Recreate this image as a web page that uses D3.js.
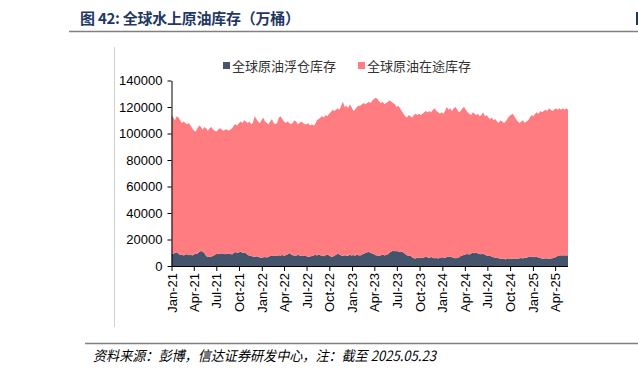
<!DOCTYPE html>
<html>
<head>
<meta charset="utf-8">
<script src="https://cdn.jsdelivr.net/npm/d3@7"></script>
<style>
  body { margin: 0; background: #fff; }
  svg { display: block; }
  .axis text { font-family: "Liberation Sans", Arial, sans-serif; font-size: 13px; fill: #000; }
  .axis path, .axis line { stroke: #000; }
</style>
</head>
<body>
<script>
// weekly series, Fridays from 2021-01-01 to 2025-05-23, in thousands of 万桶
var startDate = "2021-01-01";
var seriesNames = ["全球原油浮仓库存", "全球原油在途库存"];
var floating = [
  9.6,9.2,9.8,10.3,9.5,8.3,8.8,8.0,8.5,9.0,8.2,8.6,8.0,8.8,9.0,9.5,10.5,11.4,11.0,9.8,
  7.5,7.0,6.8,7.2,7.6,8.5,9.0,9.3,9.0,9.6,9.2,8.8,9.4,9.0,9.3,8.6,10.0,10.5,9.8,10.3,
  10.8,10.0,10.2,9.6,8.5,7.8,7.5,7.2,7.0,7.3,7.0,6.5,6.3,6.6,6.8,6.4,7.0,7.6,7.8,7.5,
  8.0,7.8,8.2,8.0,8.3,7.8,8.2,8.6,9.8,8.8,8.2,8.0,7.8,8.4,8.0,7.6,7.8,8.2,7.4,7.0,
  7.2,7.6,8.0,8.4,8.0,8.6,8.2,7.8,7.4,8.2,8.8,8.0,7.2,7.0,7.8,8.4,9.2,8.6,8.0,7.6,
  8.2,8.0,7.8,8.4,8.0,8.3,7.8,8.6,8.2,8.0,8.6,9.2,9.8,10.3,10.6,10.0,9.4,8.8,8.2,8.0,
  7.8,8.2,8.6,8.0,8.4,8.8,10.2,11.0,11.6,11.2,11.4,11.0,10.6,10.8,10.2,9.0,8.2,7.6,7.8,6.6,
  5.8,5.6,6.4,5.8,6.2,6.0,6.6,7.0,6.4,6.2,6.8,6.2,5.8,6.0,5.6,6.2,6.6,6.4,6.0,6.8,
  7.2,7.0,6.6,6.2,5.8,6.0,6.4,7.6,8.0,8.4,8.8,9.0,8.6,9.4,10.0,9.6,10.2,9.4,9.0,8.8,
  9.2,8.4,8.0,7.6,7.8,7.0,6.6,6.2,6.4,5.8,5.4,5.2,5.6,5.0,5.8,5.4,5.2,5.6,5.3,5.6,
  5.4,5.8,6.0,5.6,6.4,6.2,6.8,7.2,7.0,6.6,7.0,6.8,6.4,6.0,5.6,5.4,5.8,5.6,5.2,5.6,
  5.8,6.2,6.8,7.6,8.0,8.2,8.0,8.2,8.0,8.1
];
var inTransit = [
  104.4,102.8,100.2,102.7,102.5,101.7,99.2,101.0,99.5,98.0,99.8,97.4,96.0,93.2,92.5,94.5,95.5,93.6,92.0,95.2,
  96.5,95.0,97.2,97.8,95.4,93.5,92.5,93.7,95.0,93.4,92.8,94.2,93.6,93.0,93.7,95.4,96.0,96.5,96.2,97.7,
  98.2,98.0,99.8,99.4,99.5,101.2,99.5,100.8,106.0,103.7,102.0,101.5,103.7,105.4,102.2,101.6,100.0,101.4,103.2,100.5,
  99.0,100.2,103.8,105.0,102.7,101.2,99.8,100.4,98.2,98.2,99.8,102.0,101.2,98.6,100.0,101.4,100.2,98.8,99.6,101.0,
  98.8,99.4,98.0,98.6,102.0,102.4,103.8,105.2,104.6,105.8,104.2,107.0,108.8,111.0,109.2,109.6,109.8,109.4,113.0,116.4,
  111.8,113.0,111.2,113.6,112.0,108.7,110.2,111.4,112.8,113.0,113.4,113.8,112.2,112.7,113.4,113.0,115.6,117.2,118.8,118.0,
  116.2,114.8,115.4,114.0,114.6,115.2,114.8,113.0,111.4,110.8,108.6,110.0,108.4,106.2,104.8,104.0,103.8,106.4,105.2,105.4,
  108.2,109.4,107.6,109.2,107.8,109.0,109.4,110.0,109.6,110.8,109.2,111.8,113.2,111.0,110.4,108.8,109.4,108.6,111.0,113.2,
  110.8,112.0,110.4,112.8,114.2,112.0,109.6,109.4,111.0,111.6,109.2,107.0,106.4,104.6,106.0,105.4,103.8,105.6,104.0,105.2,
  106.8,104.6,106.0,104.4,103.2,105.0,103.4,104.8,102.6,102.2,104.6,103.8,102.4,104.0,105.2,107.6,108.8,109.4,107.7,105.4,
  103.6,102.2,103.0,104.4,101.6,102.8,103.2,104.8,107.0,106.4,108.0,109.2,108.6,111.0,110.4,111.6,112.2,111.4,113.8,112.4,
  111.2,111.8,112.2,110.4,111.0,109.8,111.0,109.8,111.0,109.9
];
var yTicks = [0, 20000, 40000, 60000, 80000, 100000, 120000, 140000];
var colors = ["#44546A", "#FF7C80"];

var width = 638, height = 374;
var svg = d3.select("body").append("svg")
    .attr("width", width)
    .attr("height", height);

var t0 = d3.timeParse("%Y-%m-%d")(startDate);
var rows = floating.map(function(f, i){
    return { date: d3.timeDay.offset(t0, i * 7), f: f * 1000, r: inTransit[i] * 1000 };
});

var x = d3.scaleTime()
    .domain([rows[0].date, rows[rows.length - 1].date])
    .range([171.5, 568]);
var y = d3.scaleLinear()
    .domain([0, 140000])
    .range([266, 80.5]);

var stack = d3.stack().keys(["f", "r"]);
var layers = stack(rows);
var area = d3.area()
    .x(function(d){ return x(d.data.date); })
    .y0(function(d){ return y(d[0]); })
    .y1(function(d){ return y(d[1]); });

svg.selectAll(".layer")
    .data(layers)
    .enter()
    .append("path")
    .attr("class", "layer")
    .attr("fill", function(d, i){ return colors[i]; })
    .attr("d", area);

// y axis
var yAxis = svg.append("g")
    .attr("class", "axis")
    .attr("transform", "translate(171.5,0)")
    .call(d3.axisLeft(y).tickValues(yTicks).tickSize(4).tickSizeOuter(0).tickFormat(d3.format("d")));
yAxis.selectAll("text").attr("x", -9);

// x axis
var xTicks = d3.timeMonth.every(3).range(new Date(2021, 0, 1), new Date(2025, 4, 1));
var xAxis = svg.append("g")
    .attr("class", "axis")
    .attr("transform", "translate(0,266)")
    .call(d3.axisBottom(x).tickValues(xTicks).tickSize(5).tickSizeOuter(0).tickFormat(d3.timeFormat("%b-%y")));
xAxis.select(".domain").attr("d", "M171.5,0.5H568");
xAxis.selectAll("text")
    .attr("transform", "rotate(-90)")
    .attr("text-anchor", "end")
    .attr("x", -7)
    .attr("y", 0)
    .attr("dy", "0.35em");

// legend
var legend = svg.append("g").attr("font-family", "'Noto Sans CJK SC', sans-serif").attr("font-size", 13);
var legX = [223, 358];
seriesNames.forEach(function(name, i){
    legend.append("rect")
        .attr("x", legX[i]).attr("y", 62)
        .attr("width", 7).attr("height", 7)
        .attr("fill", colors[i]);
    legend.append("text")
        .attr("x", legX[i] + 9).attr("y", 70.5)
        .attr("fill", "#333")
        .text(name);
});

// frame: title, rules, source
svg.append("text")
    .attr("x", 80).attr("y", 24)
    .attr("font-family", "'Noto Sans CJK SC', sans-serif")
    .attr("font-size", 15).attr("font-weight", "bold")
    .attr("fill", "#1F3864")
    .attr("textLength", 220)
    .text("图 42: 全球水上原油库存（万桶）");
svg.append("rect").attr("x", 636).attr("y", 12).attr("width", 2).attr("height", 13).attr("fill", "#1F3864");
svg.append("line").attr("x1", 69).attr("x2", 638).attr("y1", 31.5).attr("y2", 31.5)
    .attr("stroke", "#808080").attr("stroke-width", 1.6);
svg.append("line").attr("x1", 114.5).attr("x2", 114.5).attr("y1", 47).attr("y2", 327)
    .attr("stroke", "#d0d0d0").attr("stroke-width", 1);
svg.append("line").attr("x1", 85).attr("x2", 638).attr("y1", 343.5).attr("y2", 343.5)
    .attr("stroke", "#808080").attr("stroke-width", 1.6);
svg.append("text")
    .attr("x", 93).attr("y", 361)
    .attr("font-family", "'Noto Sans CJK SC', sans-serif")
    .attr("font-size", 14).attr("font-style", "italic")
    .attr("fill", "#000")
    .attr("textLength", 343)
    .attr("lengthAdjust", "spacingAndGlyphs")
    .text("资料来源：彭博，信达证券研发中心，注：截至 2025.05.23");
</script>
</body>
</html>
